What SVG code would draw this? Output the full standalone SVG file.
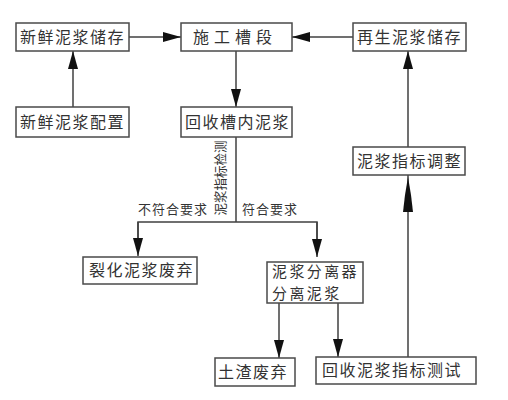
<svg xmlns="http://www.w3.org/2000/svg" width="508" height="400" viewBox="0 0 508 400">
<defs>
<style>
.box{fill:#fff;stroke:#4a4a4a;stroke-width:1.5}
.t{font-family:"Noto Sans CJK SC","Liberation Sans",sans-serif;font-size:16px;fill:#333;letter-spacing:1.5px}
.t2{font-family:"Noto Sans CJK SC","Liberation Sans",sans-serif;font-size:15px;fill:#333;letter-spacing:2.4px}
.s{font-family:"Noto Sans CJK SC","Liberation Sans",sans-serif;font-size:13px;fill:#333;letter-spacing:1px}
.ln{fill:none;stroke:#404040;stroke-width:1.5}
.ah{fill:#111}
</style>
<marker id="arr" viewBox="0 0 18 10" refX="18" refY="5" markerWidth="18" markerHeight="10" markerUnits="userSpaceOnUse" orient="auto">
<path d="M0,0 L18,5 L0,10 Z" fill="#111"/>
</marker>
</defs>
<rect width="508" height="400" fill="#fff"/>
<g id="connectors">
<line class="ln" x1="129" y1="37" x2="181" y2="37" marker-end="url(#arr)"/>
<line class="ln" x1="353" y1="37" x2="292" y2="37" marker-end="url(#arr)"/>
<line class="ln" x1="73" y1="107" x2="73" y2="51" marker-end="url(#arr)"/>
<line class="ln" x1="236" y1="51" x2="236" y2="107" marker-end="url(#arr)"/>
<polyline class="ln" points="236,137 236,222"/>
<polyline class="ln" points="138,240 138,222 317,222 317,240"/>
<line class="ln" x1="138" y1="222" x2="138" y2="256" marker-end="url(#arr)"/>
<line class="ln" x1="317" y1="222" x2="317" y2="257" marker-end="url(#arr)"/>
<line class="ln" x1="279" y1="303" x2="279" y2="358" marker-end="url(#arr)"/>
<line class="ln" x1="338" y1="303" x2="338" y2="357" marker-end="url(#arr)"/>
<line class="ln" x1="408" y1="357" x2="408" y2="175"/>
<polygon class="ah" points="408,177 405,195 403,212 413,212 411,195"/>
<line class="ln" x1="408" y1="147" x2="408" y2="51" marker-end="url(#arr)"/>
<text class="s" x="138" y="214">不符合要求</text>
<text class="s" x="242" y="214">符合要求</text>
<text class="s" transform="translate(220,178) rotate(-90)" x="0" y="5" text-anchor="middle" style="letter-spacing:0" textLength="75" lengthAdjust="spacingAndGlyphs">泥浆指标检测</text>
</g>
<g id="n1"><rect class="box" x="16" y="23" width="113" height="28"/><text class="t" x="20" y="43">新鲜泥浆储存</text></g>
<g id="n2"><rect class="box" x="181" y="23" width="111" height="28"/><text class="t" x="193" y="43" style="letter-spacing:5px">施工槽段</text></g>
<g id="n3"><rect class="box" x="353" y="23" width="113" height="28"/><text class="t" x="357" y="43">再生泥浆储存</text></g>
<g id="n4"><rect class="box" x="16" y="107" width="113" height="30"/><text class="t" x="20" y="128">新鲜泥浆配置</text></g>
<g id="n5"><rect class="box" x="181" y="107" width="111" height="30"/><text class="t" x="185" y="128">回收槽内泥浆</text></g>
<g id="n6"><rect class="box" x="353" y="147" width="112" height="28"/><text class="t" x="357" y="167">泥浆指标调整</text></g>
<g id="n7"><rect class="box" x="83" y="257" width="114" height="27"/><text class="t" x="89" y="276">裂化泥浆废弃</text></g>
<g id="n8"><rect class="box" x="267" y="262" width="96" height="41"/><text class="t2" x="272" y="277">泥浆分离器</text><text class="t2" x="272" y="299">分离泥浆</text></g>
<g id="n9"><rect class="box" x="215" y="358" width="80" height="28"/><text class="t" x="218" y="378">土渣废弃</text></g>
<g id="n10"><rect class="box" x="316" y="357" width="160" height="27"/><text class="t" x="322" y="376">回收泥浆指标测试</text></g>
</svg>
